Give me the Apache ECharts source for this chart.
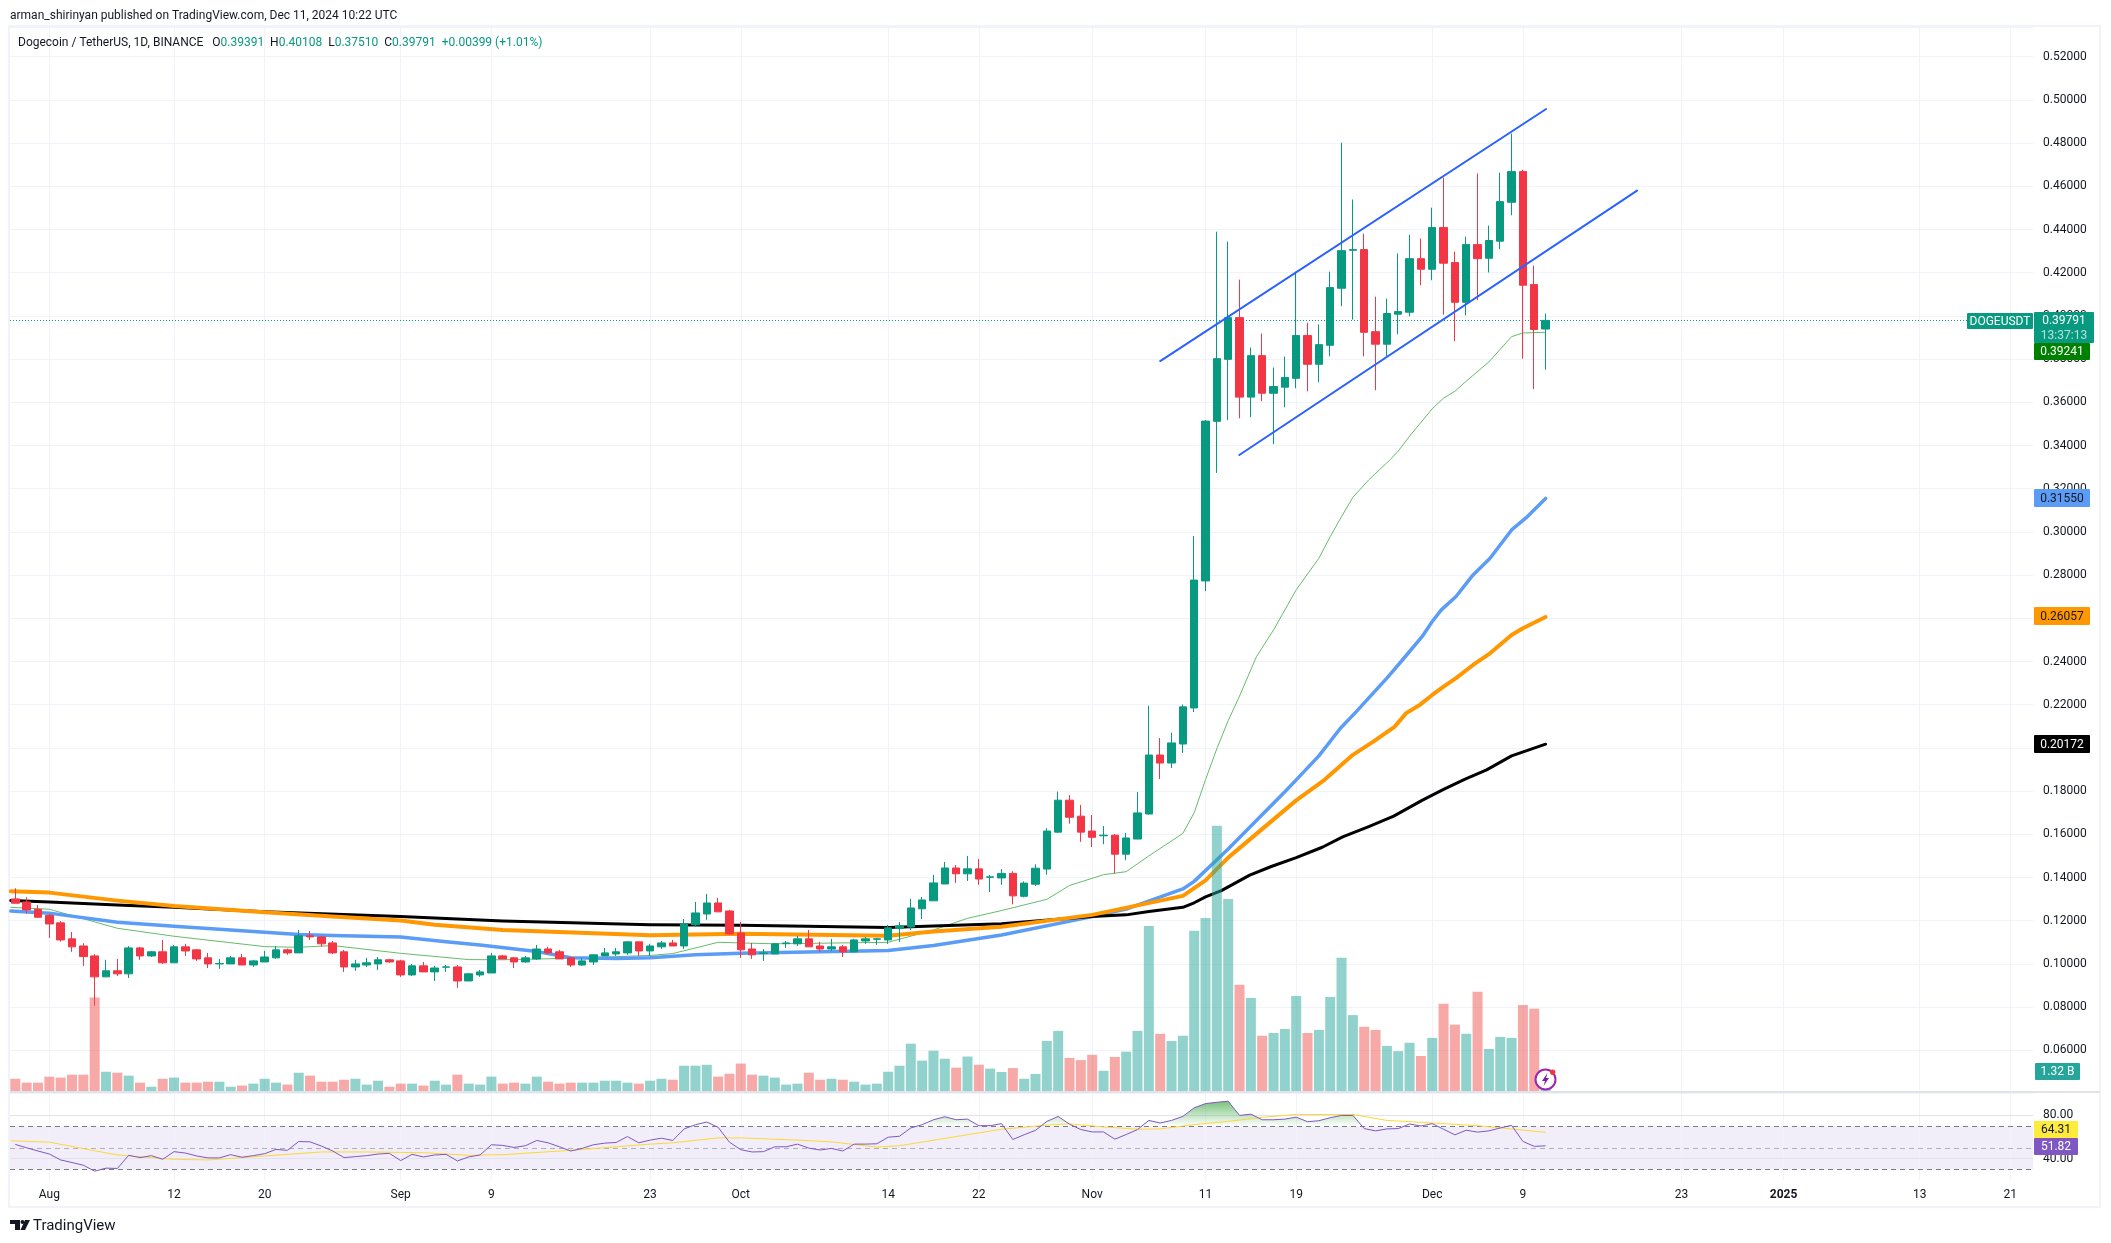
<!DOCTYPE html>
<html><head><meta charset="utf-8">
<style>html,body{margin:0;padding:0;background:#fff}#c{width:2111px;height:1243px}</style>
<script src="https://cdn.jsdelivr.net/npm/echarts@6/dist/echarts.min.js"></script>
</head><body><div id="c"></div>
<script>
// Days are counted from 1 Aug 2024; first candle is day -3 (29 Jul), last is day 132 (11 Dec).
const firstDay = -3;
const tickDays   = [0,11,19,31,39,53,61,74,82,92,102,110,122,130,144,153,165,173];
const tickLabels = ['Aug','12','20','Sep','9','23','Oct','14','22','Nov','11','19','Dec','9','23','2025','13','21'];
const priceTickStep = 0.02;

const opens = [.1301,.1287,.1253,.1224,.1190,.1116,.1083,.1037,.0940,.0968,.0954,.1074,.1037,.1056,.1005,.1079,.1065,.1028,.1000,.1000,
.1028,.0995,.1009,.1028,.1065,.1051,.1130,.1125,.1097,.1056,.0986,.0995,.1000,.1019,.1014,.0949,.0991,.0963,.0985,.0986,.0921,.0949,.0958,
.1037,.1028,.1009,.1023,.1069,.1056,.1028,.0995,.1009,.1037,.1046,.1051,.1102,.1060,.1079,.1097,.1083,.1181,.1231,.1282,.1245,.1143,.1069,.1048,.1046,.1094,.1093,.1116,.1083,.1069,
.1079,.1056,.1106,.1114,.1111,.1164,.1171,.1255,.1292,.1370,.1444,.1417,.1440,.1401,.1398,.1419,.1313,.1369,.1439,.1610,.1758,.1684,.1615,.1593,.1596,.1508,.1578,.1694,.1967,.1930,
.2018,.2185,.2773,.3512,.3799,.3992,.3624,.3816,.3642,.3670,.3711,.3909,.3776,.3864,.4128,.4304,.4307,.3927,.3869,.4008,.4017,.4265,.4216,.4409,.4247,.4063,.4330,.4267,.4346,.4526,.4668,.4145,.39391];
const closes = [.1281,.1250,.1216,.1185,.1111,.1079,.1034,.0940,.0968,.0954,.1074,.1037,.1056,.1005,.1079,.1060,.1023,.1000,.1002,.1028,
.0995,.1014,.1032,.1065,.1051,.1130,.1125,.1093,.1051,.0986,.1000,.1005,.1019,.1009,.0949,.0991,.0963,.0981,.0986,.0921,.0954,.0963,.1037,
.1023,.1009,.1028,.1069,.1051,.1023,.0995,.1014,.1042,.1051,.1056,.1102,.1060,.1083,.1097,.1083,.1185,.1236,.1282,.1241,.1139,.1065,.1042,.1051,.1093,.1097,.1116,.1079,.1069,.1079,
.1056,.1111,.1116,.1116,.1167,.1176,.1259,.1296,.1375,.1444,.1417,.1440,.1393,.1403,.1419,.1315,.1374,.1443,.1615,.1758,.1679,.1610,.1586,.1596,.1508,.1583,.1699,.1967,.1930,.2023,
.2190,.2777,.3513,.3802,.3992,.3624,.3816,.3642,.3673,.3715,.3909,.3776,.3867,.4131,.4302,.4307,.3924,.3869,.4011,.4020,.4265,.4216,.4409,.4244,.4063,.4330,.4265,.4349,.4529,.4668,.4142,.3937,.39791];
const lows = [.1281,.1233,.1213,.1120,.1103,.1056,.0991,.0806,.0940,.0944,.0935,.1019,.1032,.1000,.1005,.1037,.1014,.0981,.0977,.1000,
.0995,.0986,.1009,.1023,.1042,.1051,.1111,.1079,.1046,.0963,.0968,.0986,.0972,.1005,.0940,.0944,.0963,.0921,.0963,.0889,.0921,.0940,.0958,
.1023,.0981,.1005,.1019,.1046,.1023,.0986,.0991,.0995,.1037,.1037,.1042,.1037,.1037,.1069,.1083,.1069,.1171,.1204,.1241,.1134,.1028,.1023,.1014,.1046,.1074,.1083,.1079,.1056,.1060,
.1032,.1056,.1093,.1088,.1093,.1102,.1157,.1208,.1292,.1370,.1375,.1384,.1366,.1333,.1366,.1276,.1308,.1361,.1413,.1606,.1649,.1565,.1541,.1554,.1419,.1480,.1578,.1691,.1856,.1907,
.1977,.2166,.2726,.3273,.3517,.3526,.3531,.3605,.3406,.3577,.3665,.3651,.3693,.3813,.4045,.3983,.3813,.3656,.3813,.3915,.3998,.4142,.4165,.4006,.3883,.4003,.4073,.4201,.4309,.4466,.3802,.3661,.37510];
const highs = [.1350,.1309,.1272,.1231,.1198,.1148,.1096,.1045,.1019,.1023,.1083,.1079,.1060,.1111,.1088,.1093,.1069,.1051,.1023,.1037,
.1046,.1019,.1060,.1083,.1071,.1157,.1153,.1130,.1106,.1065,.1019,.1028,.1032,.1023,.1019,.1000,.1009,.0991,.0995,.0995,.0958,.0972,.1051,
.1042,.1032,.1037,.1088,.1079,.1065,.1032,.1028,.1042,.1074,.1074,.1106,.1102,.1093,.1106,.1111,.1208,.1287,.1324,.1306,.1250,.1194,.1097,.1069,.1097,.1106,.1130,.1157,.1102,.1116,
.1088,.1116,.1125,.1120,.1181,.1194,.1301,.1310,.1412,.1472,.1458,.1500,.1486,.1412,.1439,.1429,.1382,.1461,.1628,.1798,.1782,.1736,.1689,.1638,.1601,.1606,.1795,.2195,.2046,.2070,
.2201,.2981,.3518,.4390,.4344,.4168,.3853,.3918,.3761,.3812,.4205,.3969,.3960,.4205,.4802,.4539,.4381,.4089,.4080,.4289,.4376,.4358,.4501,.4640,.4298,.4367,.4659,.4418,.4663,.4844,.4677,.4233,.40108];
// Volume bars, read as heights on the pane's own scale (the reference hides the last bar behind its icon).
const volumes = [.68,.48,.48,.79,.74,.89,.89,4.86,1.04,.99,.84,.48,.27,.68,.74,.48,.48,.53,.53,.27,.33,.43,.68,.48,.38,.99,.84,.53,.53,.63,.68,.38,.58,.27,.43,.43,.33,.58,.38,.89,.43,.38,.79,
.43,.48,.43,.79,.53,.43,.48,.48,.48,.58,.58,.48,.43,.58,.68,.63,1.35,1.35,1.40,.79,.94,1.46,.89,.84,.74,.38,.43,.99,.63,.68,.63,.53,.38,.43,1.04,1.35,2.48,1.61,2.12,1.71,1.25,1.82,1.40,1.20,
1.03,1.23,.68,.93,2.62,3.14,1.75,1.64,1.91,1.09,1.80,2.07,3.14,8.53,2.99,2.62,2.89,8.28,8.94,13.68,9.92,5.51,4.83,2.89,3.03,3.24,4.93,3.03,3.19,4.88,6.89,3.95,3.35,3.19,2.37,2.10,2.53,1.85,2.78,4.53,3.46,2.99,5.15,2.21,2.83,2.78,4.47,4.28,1.10];
const rsiValues = [53.1,50.0,47.0,44.2,38.7,36.3,33.8,28.3,31.1,30.8,43.0,40.9,42.7,39.3,46.4,45.1,42.4,40.6,40.6,43.6,41.2,42.7,44.5,48.5,47.6,55.8,55.5,51.6,47.0,40.9,41.8,42.7,44.2,44.8,38.1,43.9,41.5,43.3,43.9,37.8,41.5,43.3,52.8,
52.2,50.3,51.9,56.8,54.6,50.9,47,49.4,52.8,54.3,54.9,60.4,54.6,57.1,58.9,56.8,67.5,71.4,73.9,69,55.2,48.2,46.1,46.4,50.9,50.9,53.4,49.7,47.9,49.4,47,53.4,53.4,53.7,59.8,60.7,68.4,71.4,76,78.8,76,76.6,70.5,70.5,
72.4,57.7,62.1,66.2,74.4,79.1,71.9,66.9,64.7,64.7,58,62.3,66.9,75.4,73,75.4,79.1,87.1,91,92.2,93.2,80,81.2,76,76,76.6,78.4,74.2,75.1,77.9,80,80,67.8,65.7,67.5,67.8,72.1,70.2,72.4,67.2,62,66.3,64.5,65.7,68.4,70.8,55.9,51.3,51.82];
const rsiMaDays   = [-3.4,0,6,11,14,19,24,28,33,37,40,46,53,55,59,61,66,69,73,75,84,88,90,93,96,98,101,104,107,110,115,118,122,126,132];
const rsiMaValues = [56.5,55.2,43.3,39.3,38.7,42.4,46.1,46.1,45.4,43,43.6,47.6,53.4,54.6,59.2,59.2,57.1,55.5,50.6,51.9,67.2,71,72.2,69.4,67.2,67.5,71.5,74.5,78.2,80.9,80.9,75.4,73,70.5,64.31];

const ma200Days = [-3.4,0,6,11,19,31,40,53,61,74,84,92,95,97,100,101,102,103.4,105.9,107.8,110,112.3,114.1,116.4,118.6,121.1,123,124.9,126.8,129,132];
const ma200 = [.1293,.1287,.1273,.1262,.1242,.1219,.1199,.1181,.1179,.1168,.1186,.1219,.1227,.1243,.1262,.1283,.1310,.1339,.1411,.1451,.1492,.1540,.1588,.1636,.1684,.1757,.1808,.1855,.1898,.1963,.20172];
const ma100Days = [-3.4,0,6,11,19,25,31,34,40,53,61,74,78,84,92,100,102,104,110,112.5,115,116.8,118.7,119.7,120.9,122,123,124.1,125.6,127.1,129,130,132];
const ma100 = [.1336,.1330,.1293,.1268,.1239,.1219,.1201,.1181,.1157,.1133,.1140,.1130,.1150,.1172,.1227,.1315,.1387,.1492,.1757,.1852,.1968,.2029,.2099,.2161,.2199,.2245,.2284,.2323,.2384,.2438,.2523,.2554,.26057];
const ma50Days = [-3.4,0,6,11,19,22,25,31,35,38,43,46,50,53,57,61,74,78,84,92,95,100,101,104,109,110,112,113.9,115.3,118,119.5,121.1,122,122.8,124.1,125.6,127.1,129,130.4,132];
const ma50 = [.1245,.1235,.1193,.1174,.1147,.1136,.1131,.1125,.1103,.1088,.1057,.1029,.1025,.1028,.1042,.1049,.1062,.1085,.1134,.1219,.1254,.1347,.1382,.1532,.1797,.1852,.1963,.2091,.2168,.2323,.2415,.2515,.2585,.2639,.2701,.2801,.2878,.3009,.3071,.31550];
const ma20Days = [-3.4,0,6,11,19,22,25,31,37,40,46,53,55,59,61,64,74,78,81,84,88,90,93,95,97,100,101,102,103,104,105,106.5,108,110,112,113,114,115,116.4,118.3,119,120,122,123,124,125,127,129,130,132];
const ma20 = [.1262,.1253,.1165,.1128,.1080,.1077,.1085,.1049,.1020,.1019,.1026,.1039,.1048,.1100,.1097,.1093,.1100,.1157,.1211,.1247,.1299,.1363,.1413,.1427,.1500,.1604,.1700,.1853,.1997,.2126,.2240,.2423,.2546,.2732,.2878,.2978,.3071,.3160,.3241,.3335,.3374,.3443,.3570,.3619,.3651,.3698,.3787,.3904,.3921,.39241];

const channelUpperDays = [98, 132.05];
const channelUpper = [.3791, .4958];
const channelLowerDays = [104.98, 140.07];
const channelLower = [.3356, .4580];
const rsiSolidLevels = [80, 40];
const rsiBandLevels = [70, 30];
const rsiMidLevel = 50;

const UP='#089981', DOWN='#f23645', GRID='#f0f3fa', TXT='#131722';
const xMin=-3.47, xMax=175;
const dayOf = i => firstDay + i;
const zip = (xs, ys) => xs.map((x,i)=>[x, ys[i]]);
const candles = opens.map((o,i)=>[dayOf(i), o, closes[i], lows[i], highs[i]]);
const volBars = volumes.map((v,i)=>({value:[dayOf(i),v], itemStyle:{color: closes[i]>=opens[i]?'rgba(38,166,154,0.5)':'rgba(239,83,80,0.5)'}}));
const rsiLine = rsiValues.map((v,i)=>[dayOf(i),v]);
const rsiOver = rsiValues.map((v,i)=>[dayOf(i),Math.max(v,70)]);
const lastClose = closes[closes.length-1];

const vLines = tickDays.map(d=>({xAxis:d}));
const vGrid = {symbol:'none',label:{show:false},silent:true,animation:false,z:1,lineStyle:{color:GRID,width:1,type:'solid'},data:vLines};

function axisX(idx, grid, labels){
  return {type:'value',gridIndex:grid,min:xMin,max:xMax,splitLine:{show:false},axisTick:{show:false},axisLine:{show:false},
    axisLabel: labels ? {show:true,customValues:tickDays,margin:9,color:TXT,fontFamily:'Roboto',fontSize:12,hideOverlap:false,
      formatter:v=>{const s=tickLabels[tickDays.indexOf(v)]; return s==='2025'?'{b|2025}':s;},
      rich:{b:{fontWeight:'bold',fontSize:12,fontFamily:'Roboto',color:TXT}}} : {show:false}};
}
function lineS(name,xs,ys,color,width,z){
  return {name,type:'line',xAxisIndex:0,yAxisIndex:0,data:zip(xs,ys),symbol:'none',z:z,silent:true,
    lineStyle:{color,width,cap:'round',join:'round'}};
}
function box(x,y,w,h,fill,text,color,size){
  return [{type:'rect',silent:true,z:100,shape:{x,y,width:w,height:h,r:1},style:{fill}},
   {type:'text',silent:true,z:101,x:x+w/2,y:y+h/2+0.5,style:{text,fill:color,font:(size||12)+'px Roboto',align:'center',verticalAlign:'middle'}}];
}
const graphics = [
 {type:'rect',silent:true,z:0,shape:{x:9,y:26,width:2091,height:1181},style:{fill:'transparent',stroke:'#f0f3fa',lineWidth:2}},
 {type:'line',silent:true,z:50,shape:{x1:10,y1:1092,x2:2100,y2:1092},style:{stroke:'#e0e3eb',lineWidth:2}},
 {type:'text',silent:true,z:101,x:10,y:16,style:{text:'arman_shirinyan published on TradingView.com, Dec 11, 2024 10:22 UTC',fill:TXT,font:'12px Roboto',verticalAlign:'middle'}},
 {type:'text',silent:true,z:101,x:18,y:43,style:{
   text:'Dogecoin / TetherUS, 1D, BINANCE   O{v|0.39391}  H{v|0.40108}  L{v|0.37510}  C{v|0.39791}  {v|+0.00399 (+1.01%)}',
   fill:TXT,font:'12px Roboto',verticalAlign:'middle',rich:{v:{fill:UP,font:'12px Roboto'}}}},
 ...box(1967,313,66,16,UP,'DOGEUSDT','#fff'),
 {type:'rect',silent:true,z:100,shape:{x:2034,y:312,width:60,height:31,r:1},style:{fill:UP}},
 {type:'text',silent:true,z:101,x:2064,y:321,style:{text:'0.39791',fill:'#fff',font:'12px Roboto',align:'center',verticalAlign:'middle'}},
 {type:'text',silent:true,z:101,x:2064,y:335.5,style:{text:'13:37:13',fill:'#b5e0d8',font:'12px Roboto',align:'center',verticalAlign:'middle'}},
 ...box(2034,343,56,17,'#008000','0.39241','#fff'),
 ...box(2034,489,56,18,'#5b9cf6','0.31550','#131722'),
 ...box(2034,607,56,18,'#ff9800','0.26057','#131722'),
 ...box(2034,735,56,18,'#000000','0.20172','#fff'),
 ...box(2035,1063,45,17,'#26a69a','1.32 B','#fff'),
 ...box(2034,1121,44,17,'#ffeb3b','64.31','#131722'),
 ...box(2034,1138,44,17,'#7e57c2','51.82','#fff'),
 {type:'circle',silent:true,z:90,shape:{cx:1545.5,cy:1079.5,r:10},style:{fill:'#fff',stroke:'#9c27b0',lineWidth:2}},
 {type:'polygon',silent:true,z:91,shape:{points:[[1547.5,1073],[1542,1081],[1545,1081],[1543.5,1086],[1549,1078],[1546,1078]]},style:{fill:'#7b1fa2'}},
 {type:'circle',silent:true,z:92,shape:{cx:1552.7,cy:1072.3,r:2.7},style:{fill:'#f23645'}},
 {type:'polygon',silent:true,z:91,shape:{points:[[10,1220],[20,1220],[20,1230],[15,1230],[15,1224],[10,1224]]},style:{fill:'#131722'}},
 {type:'circle',silent:true,z:91,shape:{cx:22.5,cy:1222,r:2},style:{fill:'#131722'}},
 {type:'polygon',silent:true,z:91,shape:{points:[[25,1220],[30,1220],[25,1230],[20.5,1230]]},style:{fill:'#131722'}},
 {type:'text',silent:true,z:101,x:33,y:1226,style:{text:'TradingView',fill:'#131722',font:'15px Roboto',verticalAlign:'middle'}}
];

const option = {
 backgroundColor:'#fff',animation:false,
 graphic:graphics,
 grid:[
  {left:10,right:78,top:27,height:1066.5,containLabel:false},
  {left:10,right:78,top:800,height:292,containLabel:false},
  {left:10,right:78,top:1093.9,height:86.2,containLabel:false}
 ],
 xAxis:[axisX(0,0,false),axisX(1,1,false),axisX(2,2,true)],
 yAxis:[
  {type:'value',gridIndex:0,position:'right',min:0.04,max:0.53375,interval:priceTickStep,
   splitLine:{show:true,lineStyle:{color:GRID,width:1}},axisLine:{show:false},axisTick:{show:false},
   axisLabel:{show:true,color:TXT,fontFamily:'Roboto',fontSize:12,margin:10,align:'left',padding:[2,0,0,0],showMinLabel:false,showMaxLabel:false,formatter:v=>v.toFixed(5)}},
  {type:'value',gridIndex:1,position:'right',min:0,max:15,splitLine:{show:false},axisLine:{show:false},axisTick:{show:false},axisLabel:{show:false}},
  {type:'value',gridIndex:2,position:'right',min:20,max:100,interval:20,splitLine:{show:false},axisLine:{show:false},axisTick:{show:false},
   axisLabel:{show:true,color:TXT,fontFamily:'Roboto',fontSize:12,margin:10,align:'left',padding:[2,0,0,0],formatter:v=>(v===40||v===80)?v.toFixed(2):''}}
 ],
 series:[
  {name:'gridV',type:'line',xAxisIndex:0,yAxisIndex:0,data:[[0,0.3]],symbol:'none',lineStyle:{opacity:0},z:1,silent:true,markLine:vGrid},
  lineS('MA20',ma20Days,ma20,'#66bb6a',1,3),
  lineS('MA50',ma50Days,ma50,'#5b9cf6',3.5,3),
  lineS('MA200',ma200Days,ma200,'#000000',3,3),
  lineS('MA100',ma100Days,ma100,'#ff9800',4,3),
  {name:'DOGEUSDT',type:'candlestick',xAxisIndex:0,yAxisIndex:0,data:candles,barWidth:8,z:5,silent:true,
   itemStyle:{color:UP,color0:DOWN,borderColor:UP,borderColor0:DOWN,borderWidth:1},
   markLine:{symbol:'none',silent:true,precision:5,label:{show:false},z:4,lineStyle:{color:UP,width:1,type:[1,2]},data:[{yAxis:lastClose}]}},
  lineS('channelUpper',channelUpperDays,channelUpper,'#2962ff',2,6),
  lineS('channelLower',channelLowerDays,channelLower,'#2962ff',2,6),
  {name:'Volume',type:'bar',xAxisIndex:1,yAxisIndex:1,data:volBars,barWidth:10,z:7,silent:true},
  {name:'gridVrsi',type:'line',xAxisIndex:2,yAxisIndex:2,data:[[0,50]],symbol:'none',lineStyle:{opacity:0},z:1,silent:true,markLine:vGrid,
   markArea:{silent:true,z:1,itemStyle:{color:'rgba(126,87,194,0.1)'},data:[[{yAxis:rsiBandLevels[1]},{yAxis:rsiBandLevels[0]}]]}},
  {name:'RSIlevels',type:'line',xAxisIndex:2,yAxisIndex:2,data:[[0,50]],symbol:'none',lineStyle:{opacity:0},z:2,silent:true,
   markLine:{symbol:'none',silent:true,label:{show:false},z:2,data:[
     ...rsiSolidLevels.map(v=>({yAxis:v,lineStyle:{color:'#e4e1ee',width:1,type:'solid'}})),
     ...rsiBandLevels.map(v=>({yAxis:v,lineStyle:{color:'#787b86',width:1,type:[5,4]}})),
     {yAxis:rsiMidLevel,lineStyle:{color:'rgba(120,123,134,0.55)',width:1,type:[5,4]}}]}},
  {name:'RSIover',type:'line',xAxisIndex:2,yAxisIndex:2,data:rsiOver,symbol:'none',z:3,silent:true,lineStyle:{width:0,opacity:0},
   areaStyle:{origin:70,opacity:1,color:{type:'linear',x:0,y:0,x2:0,y2:1,colorStops:[{offset:0,color:'rgba(76,175,80,0.75)'},{offset:1,color:'rgba(76,175,80,0)'}]}}},
  {name:'RSIma',type:'line',xAxisIndex:2,yAxisIndex:2,data:zip(rsiMaDays,rsiMaValues),symbol:'none',z:4,silent:true,lineStyle:{color:'#fdd835',width:1}},
  {name:'RSI',type:'line',xAxisIndex:2,yAxisIndex:2,data:rsiLine,symbol:'none',z:5,silent:true,lineStyle:{color:'#7e57c2',width:1}}
 ]
};
const chart = echarts.init(document.getElementById('c'),null,{renderer:'canvas',width:2111,height:1243});
chart.setOption(option);
</script></body></html>
